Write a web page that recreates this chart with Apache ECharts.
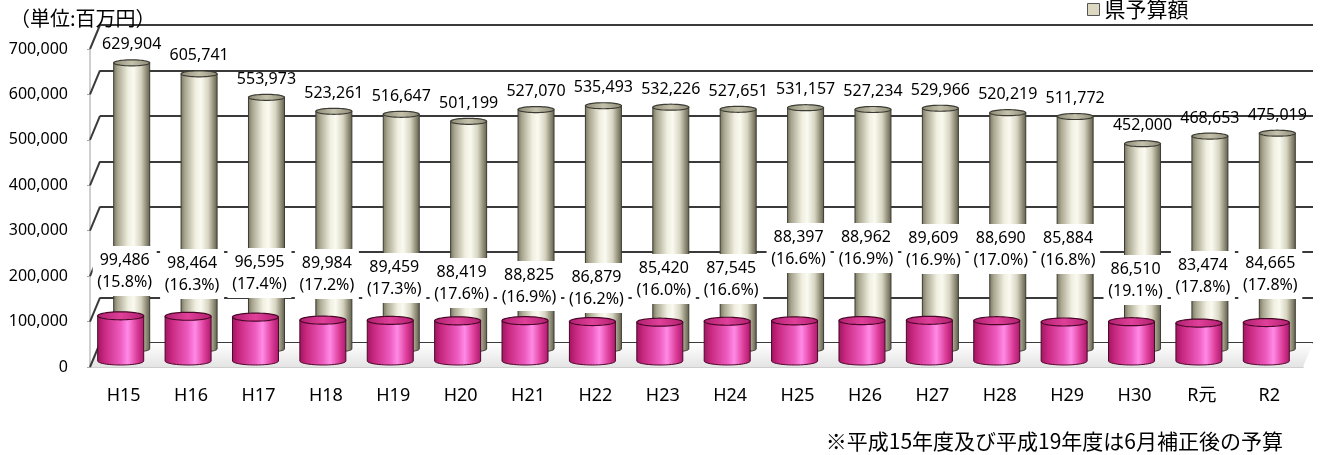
<!DOCTYPE html>
<html>
<head>
<meta charset="utf-8">
<script src="https://cdn.jsdelivr.net/npm/echarts@6/dist/echarts.min.js"></script>
<style>
  html, body { margin: 0; padding: 0; background: #fff; }
  #chart { width: 1323px; height: 455px; }
</style>
</head>
<body>
<div id="chart"></div>
<script>
const years = ['H15', 'H16', 'H17', 'H18', 'H19', 'H20', 'H21', 'H22', 'H23', 'H24', 'H25', 'H26', 'H27', 'H28', 'H29', 'H30', 'R元', 'R2']
const prefBudget = [629904, 605741, 553973, 523261, 516647, 501199, 527070, 535493, 532226, 527651, 531157, 527234, 529966, 520219, 511772, 452000, 468653, 475019]
const eduBudget = [99486, 98464, 96595, 89984, 89459, 88419, 88825, 86879, 85420, 87545, 88397, 88962, 89609, 88690, 85884, 86510, 83474, 84665]
const eduShare = ['15.8', '16.3', '17.4', '17.2', '17.3', '17.6', '16.9', '16.2', '16.0', '16.6', '16.6', '16.9', '16.9', '17.0', '16.8', '19.1', '17.8', '17.8']
const yTicks = [0, 100000, 200000, 300000, 400000, 500000, 600000, 700000]

// the source chart has hand-placed label boxes: y of first text line, px
const eduLabelY = [260, 263, 262, 263, 267, 272, 275, 277, 268, 268, 237, 237, 238, 238, 238, 269, 265, 263]

const FONT = '"Noto Sans", "Noto Sans CJK JP", sans-serif'
const JP = '"Noto Sans CJK JP", sans-serif'

// depth offsets (px) for the pseudo 3D look
const WALL = { dx: 10, dy: -24 }
const BACK = { dx: 8, dy: -18, w: 36, ry: 3 }
const FRONT = { dx: -3, dy: -6, w: 46, ry: 4 }

const fmt = v => v.toLocaleString('en-US')

const cylinder = (cx, yTop, yBase, w, ry, body, cap, edge) => {
  const n = 24
  const pts = [[cx - w / 2, yTop], [cx - w / 2, yBase]]
  for (let k = 0; k <= n; k++) {
    const t = Math.PI - k * Math.PI / n
    pts.push([cx + w / 2 * Math.cos(t), yBase + ry * Math.sin(t)])
  }
  pts.push([cx + w / 2, yTop])
  const top = []
  for (let k = 0; k < 48; k++) {
    const t = k * Math.PI * 2 / 48
    top.push([cx + w / 2 * Math.cos(t), yTop + ry * Math.sin(t)])
  }
  return [
    { type: 'polygon', shape: { points: pts }, style: { fill: body, stroke: edge, lineWidth: 1 } },
    { type: 'polygon', shape: { points: top }, style: { fill: cap, stroke: edge, lineWidth: 1.2 } }
  ]
}

const hGrad = stops => ({
  type: 'linear', x: 0, y: 0, x2: 1, y2: 0,
  colorStops: stops.map(([offset, color]) => ({ offset, color }))
})

const beigeBody = hGrad([[0, '#76745e'], [0.12, '#a9a790'], [0.4, '#efeedf'], [0.55, '#fbfaf1'], [0.75, '#d6d4c0'], [0.9, '#8e8c76'], [1, '#5f5d4a']])
const beigeCap = hGrad([[0, '#8c8a74'], [0.5, '#c4c2ac'], [1, '#8c8a74']])
const pinkBody = hGrad([[0, '#9e1560'], [0.15, '#c8287f'], [0.5, '#ee5cc0'], [0.65, '#ff8ae6'], [0.85, '#dc3c98'], [1, '#a8186a']])
const pinkCap = hGrad([[0, '#b01e6e'], [0.5, '#e0409a'], [1, '#b01e6e']])

const chart = echarts.init(document.getElementById('chart'))

const option = {
  animation: false,
  backgroundColor: '#fff',
  title: {
    text: '（単位:百万円）',
    left: 10,
    top: 8,
    padding: 0,
    textStyle: { fontSize: 20, fontWeight: 'normal', color: '#000', fontFamily: JP }
  },
  legend: {
    data: ['県予算額'],
    left: 1082,
    top: -6,
    icon: 'rect',
    itemWidth: 12,
    itemHeight: 12,
    itemStyle: { borderColor: '#555', borderWidth: 1 },
    textStyle: { fontSize: 21, color: '#000', fontFamily: JP }
  },
  grid: [
    { left: 90, right: 20, top: 49, bottom: 88 },
    { left: 100, right: 10, top: 25, bottom: 112 }
  ],
  xAxis: [
    {
      type: 'category',
      gridIndex: 0,
      data: years,
      axisLine: { lineStyle: { color: '#bfbfbf', width: 1.5 } },
      axisTick: { length: 8, lineStyle: { color: '#a6a6a6' } },
      axisLabel: { fontSize: 18, color: '#000', margin: 20, fontFamily: FONT }
    },
    { type: 'category', gridIndex: 1, data: years, show: false }
  ],
  yAxis: [
    {
      type: 'value',
      gridIndex: 0,
      min: 0,
      max: 700000,
      interval: 100000,
      axisLine: { show: true, lineStyle: { color: '#bfbfbf', width: 1.5 } },
      axisTick: { show: true, length: 3, lineStyle: { color: '#a6a6a6' } },
      axisLabel: { fontSize: 16, color: '#000', margin: 22, fontFamily: FONT, formatter: v => fmt(v) },
      splitLine: { show: false }
    },
    {
      type: 'value',
      gridIndex: 1,
      min: 0,
      max: 700000,
      interval: 100000,
      axisLine: { show: false },
      axisTick: { show: false },
      axisLabel: { show: false },
      splitLine: { lineStyle: { color: '#3a3a3a', width: 2 } }
    }
  ],
  graphic: [
    {
      type: 'text',
      right: 40,
      top: 431,
      style: { text: '※平成15年度及び平成19年度は6月補正後の予算', fontSize: 21, fill: '#000', fontFamily: JP }
    }
  ],
  series: [
    {
      // floor + side wall lines
      type: 'custom',
      xAxisIndex: 0,
      yAxisIndex: 0,
      silent: true,
      z: 1,
      data: yTicks.map(v => [0, v]),
      renderItem: (params, api) => {
        const cs = params.coordSys
        const p = api.coord([0, api.value(1)])
        const x0 = cs.x
        const kids = [{
          type: 'line',
          shape: { x1: x0, y1: p[1], x2: x0 + WALL.dx, y2: p[1] + WALL.dy },
          style: { stroke: '#3a3a3a', lineWidth: 2 }
        }]
        if (params.dataIndex === 0) {
          kids.unshift({
            type: 'polygon',
            shape: { points: [[x0, p[1]], [x0 + cs.width, p[1]], [x0 + cs.width + WALL.dx, p[1] + WALL.dy], [x0 + WALL.dx, p[1] + WALL.dy]] },
            style: {
              fill: { type: 'linear', x: 0, y: 0, x2: 0, y2: 1, colorStops: [{ offset: 0, color: '#ffffff' }, { offset: 1, color: '#e4e4e4' }] }
            }
          })
        }
        return { type: 'group', children: kids }
      }
    },
    {
      name: '県予算額',
      type: 'custom',
      xAxisIndex: 0,
      yAxisIndex: 0,
      z: 2,
      itemStyle: { color: '#dcd8c2' },
      data: prefBudget.map((v, i) => [i, v]),
      renderItem: (params, api) => {
        const i = api.value(0)
        const v = api.value(1)
        const b = api.coord([i, 0])
        const t = api.coord([i, v])
        const cx = b[0] + BACK.dx
        const yb = b[1] + BACK.dy
        const yt = t[1] + BACK.dy
        const kids = cylinder(cx, yt, yb, BACK.w, BACK.ry, beigeBody, beigeCap, '#3c3c34')
        kids.push({
          type: 'text',
          x: cx,
          y: yt - 18,
          style: { text: fmt(v), fontSize: 16, fontFamily: FONT, fill: '#000', align: 'center', verticalAlign: 'middle', textAlign: 'center', textVerticalAlign: 'middle' }
        })
        return { type: 'group', children: kids }
      }
    },
    {
      name: '教育費',
      type: 'custom',
      xAxisIndex: 0,
      yAxisIndex: 0,
      z: 3,
      itemStyle: { color: '#e040a0' },
      data: eduBudget.map((v, i) => [i, v]),
      renderItem: (params, api) => {
        const i = api.value(0)
        const v = api.value(1)
        const b = api.coord([i, 0])
        const t = api.coord([i, v])
        const cx = b[0] + FRONT.dx
        const yb = b[1] + FRONT.dy
        const yt = t[1] + FRONT.dy
        const kids = cylinder(cx, yt, yb, FRONT.w, FRONT.ry, pinkBody, pinkCap, '#4a0828')
        const ly = eduLabelY[i]
        const lx = b[0] + 1
        const txt = (s, y) => ({
          type: 'text',
          x: lx,
          y: y,
          style: { text: s, fontSize: 16, fontFamily: FONT, fill: '#000', align: 'center', verticalAlign: 'middle', textAlign: 'center', textVerticalAlign: 'middle' }
        })
        kids.push({ type: 'rect', shape: { x: lx - 32, y: ly - 14, width: 64, height: 50 }, style: { fill: '#fff' } })
        kids.push(txt(fmt(v), ly))
        kids.push(txt('(' + eduShare[i] + '%)', ly + 22))
        return { type: 'group', children: kids }
      }
    }
  ]
}

chart.setOption(option)
</script>
</body>
</html>
